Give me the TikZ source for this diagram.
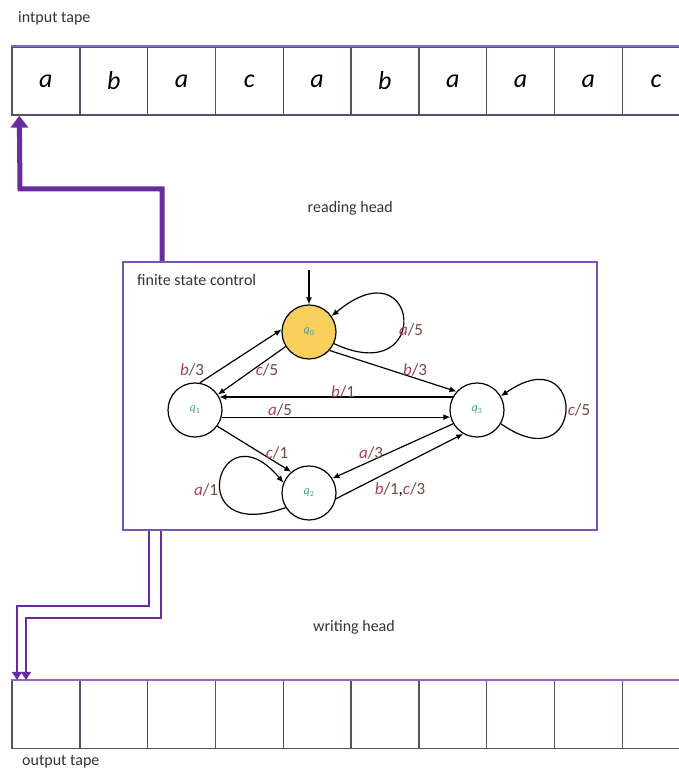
\documentclass[tikz,border=0pt]{standalone}
\usepackage{fontspec}
\setmainfont{Carlito}
\usetikzlibrary{arrows.meta}

\definecolor{headpurple}{RGB}{104,44,158}
\definecolor{boxpurple}{RGB}{122,84,176}
\definecolor{tapegray}{RGB}{88,80,104}
\definecolor{tapetop}{RGB}{136,104,196}
\definecolor{startyellow}{RGB}{246,208,90}
\definecolor{qteal}{RGB}{72,160,150}
\definecolor{symred}{RGB}{168,62,98}
\definecolor{outbrown}{RGB}{112,72,64}

% read symbol / written symbol
\newcommand{\io}[2]{\textcolor{symred}{\textit{#1}}\textcolor{outbrown}{/#2}}
\newcommand{\qs}[1]{\textcolor{qteal}{\textit{q}\textsubscript{#1}}}

\begin{document}
\begin{tikzpicture}[x=1pt, y=1pt, >={Latex[length=7pt,width=6pt]}]
    \tikzstyle{cell} = [draw=tapegray, line width=1.4pt, minimum size=67.8pt, inner sep=0pt, font=\fontsize{26}{26}\selectfont\itshape]
    \tikzstyle{fscbox} = [draw=boxpurple, line width=2pt, minimum width=474pt, minimum height=268pt, inner sep=0pt]
    \tikzstyle{state} = [draw, circle, line width=1.2pt, minimum size=54pt, inner sep=0pt, font=\fontsize{12}{12}\selectfont]
    \tikzstyle{lbl} = [inner sep=1pt, font=\fontsize{17}{17}\selectfont]
    \tikzstyle{caption} = [inner sep=0pt, font=\fontsize{16}{16}\selectfont, text=black!80]
    \tikzstyle{readhead} = [draw=headpurple, line width=5pt, -{Triangle[length=12pt,width=17pt]}]
    \tikzstyle{writehead} = [draw=headpurple, line width=2.5pt, -{Triangle[length=8pt,width=10pt]}]
    \tikzstyle{trans} = [line width=1.2pt, ->]

    \useasboundingbox (0,0) rectangle (678,770);

    % input and output tape
    \foreach \s [count=\i from 0] in {a,b,a,c,a,b,a,a,a,c}
        \node[cell] (in\i) at (45.9+67.8*\i, 689) {\s};
    \foreach \i in {0,...,9}
        \node[cell] (out\i) at (45.9+67.8*\i, 55.5) {};
    \draw[tapetop, line width=2pt] (in0.north west) -- (in9.north east);
    \draw[tapetop, line width=2pt] (out0.north west) -- (out9.north east);

    \node[caption, anchor=west] (intape) at (18, 752) {intput tape};
    \node[caption, anchor=west] (outtape) at (22, 8) {output tape};
    \node[caption, anchor=east] (reading) at (393, 562) {reading head};
    \node[caption, anchor=east] (writing) at (395, 143) {writing head};

    % control unit
    \node[fscbox] (fsc) at (360, 374) {};
    \node[caption, anchor=west] (fsclabel) at (137, 490) {finite state control};

    \node[state, fill=startyellow] (q0) at (309, 438) {\qs{0}};
    \node[state] (q1) at (195, 360) {\qs{1}};
    \node[state] (q3) at (477, 360) {\qs{3}};
    \node[state] (q2) at (309, 277) {\qs{2}};

    \coordinate (start) at (309, 500);
    \draw[trans] (start) -- (q0);
    \draw[trans] (q0.-25) .. controls +(-25:110) and +(40:115) .. (q0.35);
    \draw[trans] (q1.80) -- (q0.175);
    \draw[trans] (q0.212) -- (q1.34);
    \draw[trans] (q3.152) -- (q1.28);
    \draw[trans] (q1.-15) -- (q3.195);
    \draw[trans] (q0.-42) -- (q3.138);
    \draw[trans] (q3.-30) .. controls +(-35:105) and +(35:105) .. (q3.30);
    \draw[trans] (q1.-36) -- (q2.130);
    \draw[trans] (q2.212) .. controls +(200:112) and +(130:102) .. (q2.158);
    \draw[trans] (q3.210) -- (q2.32);
    \draw[trans] (q2.-12) -- (q3.240);

    \node[lbl] (l00) at (411, 440) {\io{a}{5}};
    \node[lbl] (l10) at (192, 400) {\io{b}{3}};
    \node[lbl] (l01) at (267, 400) {\io{c}{5}};
    \node[lbl] (l31) at (343, 378) {\io{b}{1}};
    \node[lbl] (l13) at (280, 360) {\io{a}{5}};
    \node[lbl] (l03) at (415, 400) {\io{b}{3}};
    \node[lbl] (l33) at (579, 360) {\io{c}{5}};
    \node[lbl] (l12) at (277, 317) {\io{c}{1}};
    \node[lbl] (l32) at (371, 317) {\io{a}{3}};
    \node[lbl] (l22) at (206, 280) {\io{a}{1}};
    \node[lbl] (l23) at (400, 280) {\io{b}{1},\io{c}{3}};

    % heads
    \coordinate (rbend) at (20, 581);
    \draw[readhead] ([xshift=40pt]fsc.north west) |- (rbend) -- ([xshift=8pt]in0.south west);

    \coordinate (wbend1) at (17, 164);
    \coordinate (wbend2) at (26, 152);
    \draw[writehead] ([xshift=27pt]fsc.south west) |- (wbend1) -- (wbend1 |- out0.north);
    \draw[writehead] ([xshift=39pt]fsc.south west) |- (wbend2) -- (wbend2 |- out0.north);
\end{tikzpicture}
\end{document}
